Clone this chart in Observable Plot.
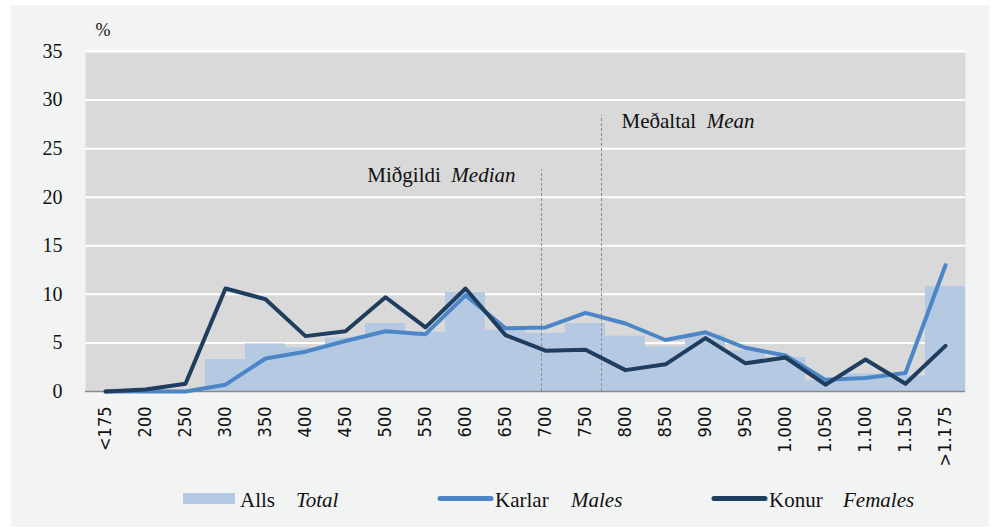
<!DOCTYPE html>
<html>
<head>
<meta charset="utf-8">
<script src="https://cdn.jsdelivr.net/npm/d3@7"></script>
<script src="https://cdn.jsdelivr.net/npm/@observablehq/plot@0.6"></script>
<style>
  body { margin: 0; background: #ffffff; }
  #wrap { position: relative; width: 1000px; height: 532px; overflow: hidden; }
  #panel { position: absolute; left: 11px; top: 5px; width: 978px; height: 522px; background: #f2f4f3; }
  #chart { position: absolute; left: 0; top: 0; }
  #legend { position: absolute; left: 0; top: 460px; }
  .xt text { font-family: "DejaVu Sans Condensed", "DejaVu Sans", sans-serif; font-stretch: condensed; }
</style>
</head>
<body>
<div id="wrap">
  <div id="panel"></div>
  <div id="chart"></div>
  <div id="legend"></div>
</div>
<script>
// ---- data ----
const categories = ["<175","200","250","300","350","400","450","500","550","600","650","700","750","800","850","900","950","1.000","1.050","1.100","1.150",">1.175"];
const total   = [0, 0, 0, 3.3, 4.9, 4.5, 5.5, 7.0, 6.1, 10.2, 6.3, 6.0, 7.0, 5.7, 4.6, 5.8, 4.2, 3.5, 1.1, 1.8, 1.6, 10.8];
const males   = [0, 0, 0, 0.7, 3.4, 4.1, 5.2, 6.2, 5.9, 9.9, 6.5, 6.6, 8.1, 7.0, 5.3, 6.1, 4.5, 3.7, 1.2, 1.4, 1.9, 13.0];
const females = [0, 0.2, 0.8, 10.6, 9.5, 5.7, 6.2, 9.7, 6.6, 10.6, 5.8, 4.2, 4.3, 2.2, 2.8, 5.5, 2.9, 3.5, 0.7, 3.3, 0.8, 4.7];
const yTicks = [0, 5, 10, 15, 20, 25, 30, 35];
const annotations = [
  {label: "Miðgildi", en: "Median", value: 695, top: 22.8, side: "left"},
  {label: "Meðaltal", en: "Mean",   value: 770, top: 28.4, side: "right"}
];
const legendItems = [
  {label: "Alls",   en: "Total",   kind: "rect", color: "#b5c9e2"},
  {label: "Karlar", en: "Males",   kind: "line", color: "#4d86c7"},
  {label: "Konur",  en: "Females", kind: "line", color: "#1f3d5e"}
];

// ---- helpers ----
const idx = categories.map((_, i) => i);
const valueToIndex = v => (v - 150) / 50;   // 200 -> 1, 700 -> 11
const rows = idx.map(i => ({i, cat: categories[i], total: total[i], males: males[i], females: females[i]}));
const serif = "Liberation Serif, Times New Roman, serif";

const plot = Plot.plot({
  width: 1000,
  height: 480,
  marginLeft: 85,
  marginRight: 35,
  marginTop: 51,
  marginBottom: 89,
  style: {background: "transparent", fontFamily: serif, color: "#111"},
  x: {type: "linear", domain: [-0.5, categories.length - 0.5]},
  y: {domain: [0, 35]},
  marks: [
    Plot.frame({fill: "#d9d9d9", stroke: null}),
    Plot.gridY(yTicks.filter(d => d > 0), {stroke: "#ffffff", strokeOpacity: 1, strokeWidth: 2}),
    Plot.rectY(rows, {x1: d => d.i - 0.5, x2: d => d.i + 0.5, y: "total", fill: "#b5c9e2"}),
    Plot.ruleY([0], {stroke: "#8a8a8a", strokeWidth: 1.5}),
    Plot.ruleX(annotations, {x: d => valueToIndex(d.value), y1: 0, y2: "top", stroke: "#8c8c8c", strokeWidth: 1, strokeDasharray: "3,2"}),
    Plot.text(annotations.filter(d => d.side === "left"), {
      x: d => valueToIndex(d.value), y: "top", text: d => d.label + "|" + d.en,
      textAnchor: "end", lineAnchor: "bottom", dx: -26, dy: 12, fontSize: 21, fill: "#111", className: "annot"
    }),
    Plot.text(annotations.filter(d => d.side === "right"), {
      x: d => valueToIndex(d.value), y: "top", text: d => d.label + "|" + d.en,
      textAnchor: "start", lineAnchor: "bottom", dx: 20, dy: 12, fontSize: 21, fill: "#111", className: "annot"
    }),
    Plot.line(rows, {x: "i", y: "males", stroke: "#4d86c7", strokeWidth: 4}),
    Plot.line(rows, {x: "i", y: "females", stroke: "#1f3d5e", strokeWidth: 4}),
    Plot.axisY(yTicks, {tickSize: 0, tickPadding: 23, fontSize: 20, label: null, fill: "#111"}),
    Plot.axisX(idx, {tickSize: 0, tickPadding: 15, tickRotate: -90, tickFormat: i => categories[i], fontSize: 18, label: null, fill: "#111", className: "xt"}),
    Plot.text(["%"], {frameAnchor: "top-left", dx: 10, dy: -21, textAnchor: "start", lineAnchor: "middle", fontSize: 18, fill: "#111"})
  ]
});
document.getElementById("chart").appendChild(plot);

// mixed upright / italic annotation text
d3.select(plot).selectAll(".annot text").each(function () {
  const parts = this.textContent.split("|");
  const t = d3.select(this);
  t.text(null);
  t.append("tspan").text(parts[0]);
  t.append("tspan").attr("font-style", "italic").text("\u00a0\u00a0" + parts[1]);
});

// ---- legend ----
const lg = d3.select("#legend").append("svg").attr("width", 1000).attr("height", 72)
  .style("font-family", serif).style("font-size", "21px");
const legendX = [183, 438, 712];
const enOffset = [113, 133, 131];
legendItems.forEach((d, k) => {
  const x0 = legendX[k];
  if (d.kind === "rect") {
    lg.append("rect").attr("x", x0).attr("y", 33).attr("width", 52).attr("height", 11).attr("fill", d.color);
  } else {
    lg.append("line").attr("x1", x0 + 2).attr("x2", x0 + 53).attr("y1", 38.5).attr("y2", 38.5)
      .attr("stroke", d.color).attr("stroke-width", 5).attr("stroke-linecap", "round");
  }
  lg.append("text").attr("x", x0 + 57).attr("y", 46.7).attr("fill", "#111").text(d.label);
  lg.append("text").attr("x", x0 + enOffset[k]).attr("y", 46.7).attr("fill", "#111").attr("font-style", "italic").text(d.en);
});
</script>
</body>
</html>
